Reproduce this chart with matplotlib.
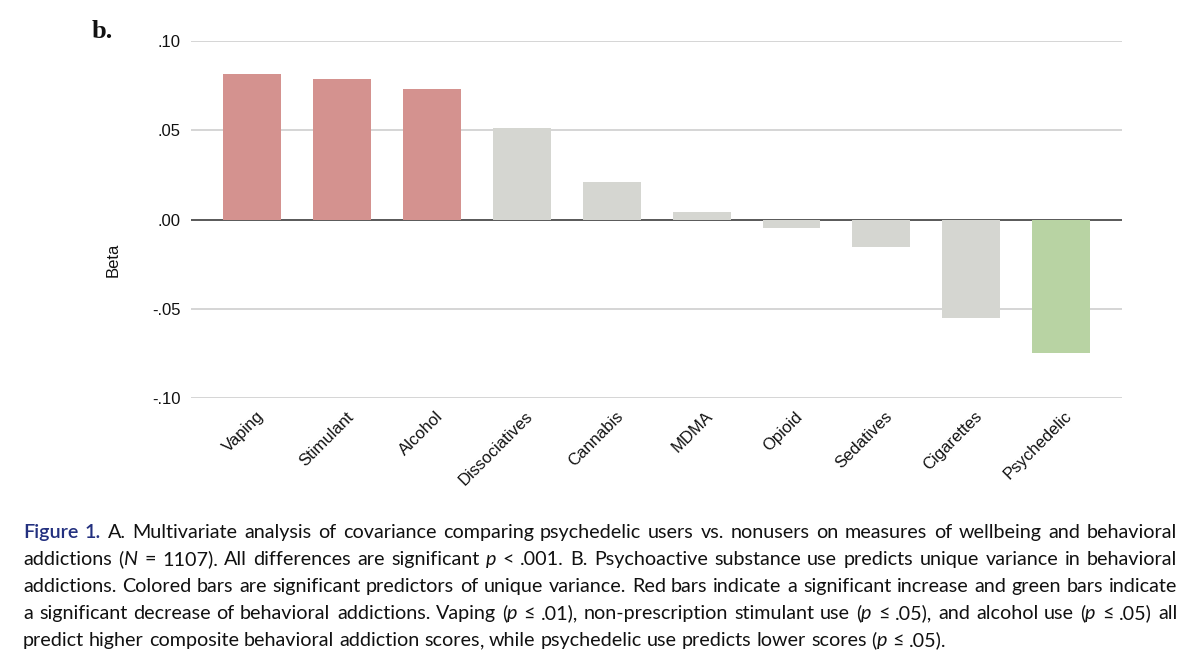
import matplotlib
matplotlib.use("Agg")
import matplotlib.pyplot as plt
from matplotlib.transforms import ScaledTranslation, IdentityTransform

# ---------------- data ----------------
categories = ["Vaping", "Stimulant", "Alcohol", "Dissociatives", "Cannabis",
              "MDMA", "Opioid", "Sedatives", "Cigarettes", "Psychedelic"]
betas = [0.0815, 0.0789, 0.0731, 0.0512, 0.0211,
         0.0043, -0.0047, -0.0155, -0.0550, -0.0750]
effect = ["up", "up", "up", "ns", "ns", "ns", "ns", "ns", "ns", "down"]
ytick_values = [-0.10, -0.05, 0.00, 0.05, 0.10]
ytick_labels = ["-.10", "-.05", ".00", ".05", ".10"]
panel_label = "b."
y_label = "Beta"
caption_lines = [
    "#Figure 1.# A. Multivariate analysis of covariance comparing psychedelic users vs. nonusers on measures of wellbeing and behavioral",
    "addictions (*N* = 1107). All differences are significant *p* < .001. B. Psychoactive substance use predicts unique variance in behavioral",
    "addictions. Colored bars are significant predictors of unique variance. Red bars indicate a significant increase and green bars indicate",
    "a significant decrease of behavioral addictions. Vaping (*p* \u2264 .01), non-prescription stimulant use (*p* \u2264 .05), and alcohol use (*p* \u2264 .05) all",
    "predict higher composite behavioral addiction scores, while psychedelic use predicts lower scores (*p* \u2264 .05).",
]

# ---------------- style ----------------
W, H = 1200, 670
colors = {"up": "#D4928F", "ns": "#D5D6D1", "down": "#B8D3A3"}
sans = ["Liberation Sans", "DejaVu Sans"]
cap_font = ["Lato", "Open Sans", "DejaVu Sans"]

fig = plt.figure(figsize=(W / 100, H / 100), dpi=100)
fig.patch.set_facecolor("white")

ax_left, ax_right, ax_top, ax_bottom = 190.7, 1121.5, 41.3, 397.7
ax = fig.add_axes([ax_left / W, 1 - ax_bottom / H,
                   (ax_right - ax_left) / W, (ax_bottom - ax_top) / H])

x = list(range(len(categories)))
ax.bar(x, betas, width=0.645, color=[colors[e] for e in effect],
       zorder=3, linewidth=0)

ax.set_ylim(-0.10, 0.10)
ax.set_xlim(-0.687, 9.673)
ax.set_yticks(ytick_values)
ax.set_yticklabels(ytick_labels, fontsize=12, family=sans, color="#111111")
ax.yaxis.grid(True, color="#D0D0D0", linewidth=1.25, zorder=0)
ax.axhline(0, color="#4F4F4F", linewidth=1.3, zorder=2)
ax.tick_params(axis="y", length=0, pad=7.5)
ax.tick_params(axis="x", length=0, pad=8.0)
for s in ax.spines.values():
    s.set_visible(False)

ax.set_xticks(x)
ax.set_xticklabels(categories, rotation=45, ha="right", va="top",
                   rotation_mode="anchor", fontsize=12, family=sans,
                   color="#111111")
offset = ScaledTranslation(2.5 / 72, 0, fig.dpi_scale_trans)
for lab in ax.get_xticklabels():
    lab.set_transform(lab.get_transform() + offset)

fig.text(113.3 / W, 1 - 259.5 / H, y_label, rotation=90, ha="center",
         va="center", fontsize=12, family=sans, color="#111111")
fig.text(92 / W, 1 - 38 / H, panel_label, fontsize=19,
         family=["Liberation Serif", "DejaVu Serif"],
         weight="bold", va="baseline", ha="left", color="#111111")

# ---------------- caption (justified) ----------------
renderer = fig.canvas.get_renderer()


def parse(line, state):
    words = []
    for w in line.split(" "):
        pieces = []
        buf = ""
        for ch in w:
            if ch in "#*":
                if buf:
                    pieces.append((buf, dict(state)))
                    buf = ""
                key = "fig" if ch == "#" else "it"
                state[key] = not state[key]
            else:
                buf += ch
        if buf:
            # keep a lone trailing comma as its own piece
            if len(buf) > 1 and buf.endswith(",") and buf[:-1].isalpha():
                pieces.append((buf[:-1], dict(state)))
                pieces.append((",", dict(state)))
            else:
                pieces.append((buf, dict(state)))
        if pieces:
            words.append(pieces)
    return words


def props(st, size):
    p = dict(fontsize=size, family=cap_font, color="#111111")
    if st["fig"]:
        p.update(color="#23307F", weight="semibold")
    if st["it"]:
        p.update(style="italic")
    return p


def tw(s, st, size):
    t = fig.text(0, 0, s, **props(st, size))
    w = t.get_window_extent(renderer).width
    t.remove()
    return w


state = {"fig": False, "it": False}
parsed = [parse(l, state) for l in caption_lines]

left_px, right_px = 23.0, 1177.0
target = right_px - left_px
base = {"fig": False, "it": False}


def natural(words, size):
    sp = tw("a a", base, size) - tw("aa", base, size)
    ws = [sum(tw(s, st, size) for s, st in w) for w in words]
    return sum(ws) + sp * (len(ws) - 1), ws, sp


ref_size = 12.0
widest = max(natural(w, ref_size)[0] for w in parsed[:4])
size = round(min(ref_size * target * 0.985 / widest, 15.0), 1)

baselines = [538.0, 565.0, 592.0, 619.0, 646.0]
ident = IdentityTransform()
for i, words in enumerate(parsed):
    tot, ws, sp = natural(words, size)
    if i < len(parsed) - 1:
        gap = (target - sum(ws)) / (len(ws) - 1)
    else:
        gap = sp
    xp = left_px
    ybase = H - baselines[i]
    for w, wwidth in zip(words, ws):
        xx = xp
        for s, st in w:
            fig.text(round(xx), ybase, s, va="baseline", ha="left",
                     transform=ident, **props(st, size))
            xx += tw(s, st, size)
        xp += wwidth + gap

fig.savefig("out.png", dpi=100, facecolor="white")
